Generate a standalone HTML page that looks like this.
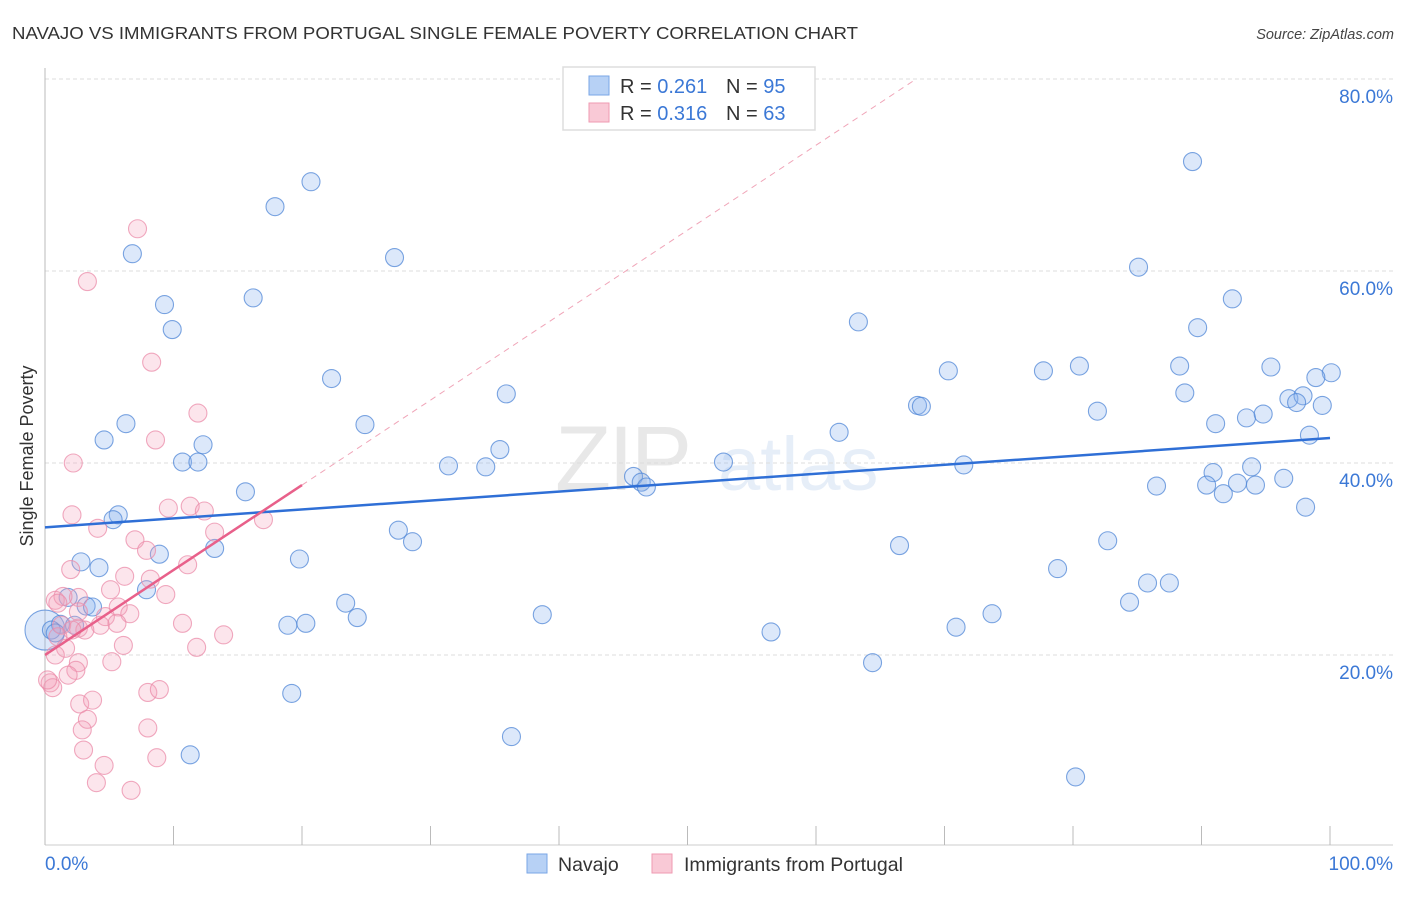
<!DOCTYPE html>
<html><head><meta charset="utf-8"><style>
body{margin:0;background:#fff;font-family:"Liberation Sans",sans-serif}
svg text{font-family:"Liberation Sans",sans-serif}
</style></head><body>
<svg id="chart" width="1406" height="892" xmlns="http://www.w3.org/2000/svg">
<text x="12" y="39" font-size="17.5" fill="#333" textLength="846" lengthAdjust="spacingAndGlyphs">NAVAJO VS IMMIGRANTS FROM PORTUGAL SINGLE FEMALE POVERTY CORRELATION CHART</text>
<text x="1394" y="39" font-size="14.5" fill="#444" text-anchor="end" font-style="italic">Source: ZipAtlas.com</text>
<g opacity="0.13">
<text x="555" y="490" font-size="92" font-family="Liberation Serif" fill="#555" letter-spacing="-3">ZIP</text>
<text x="718" y="490" font-size="76" fill="#4a7fd0">atlas</text>
</g>
<g id="grid"></g>
<g id="axes"></g>
<g id="pts"></g>
<g id="lines"></g>
<text transform="translate(33,456) rotate(-90)" font-size="18" fill="#333" text-anchor="middle">Single Female Poverty</text>
<g>
<rect x="563" y="67" width="252" height="63" fill="#fff" stroke="#ddd" stroke-width="1.5"/>
<rect x="589" y="76" width="20" height="19" fill="#b7d1f5" stroke="#7aa6e6"/>
<text x="620" y="93" font-size="20" fill="#333">R = <tspan fill="#3b78d6">0.261</tspan><tspan x="726">N = </tspan><tspan fill="#3b78d6">95</tspan></text>
<rect x="589" y="103" width="20" height="19" fill="#f9c9d6" stroke="#ef9ab2"/>
<text x="620" y="120" font-size="20" fill="#333">R = <tspan fill="#3b78d6">0.316</tspan><tspan x="726">N = </tspan><tspan fill="#3b78d6">63</tspan></text>
</g>
<g>
<rect x="527" y="854" width="20" height="19" fill="#b7d1f5" stroke="#7aa6e6"/>
<text x="558" y="871" font-size="19.5" fill="#333">Navajo</text>
<rect x="652" y="854" width="20" height="19" fill="#f9c9d6" stroke="#ef9ab2"/>
<text x="684" y="871" font-size="19.5" fill="#333">Immigrants from Portugal</text>
</g>
</svg>
<script>
const navajoX=[0,20.7,17.9,6.8,27.2,9.3,16.2,9.9,22.3,35.9,6.3,4.6,24.9,12.3,35.4,10.7,11.9,31.4,34.3,15.6,5.7,5.3,27.5,28.6,13.2,8.9,2.8,19.8,4.2,7.9,1.8,23.4,3.2,3.7,24.3,18.9,20.3,1.2,2.3,0.5,0.8,38.7,19.2,36.3,11.3,89.3,85.1,92.4,89.7,63.3,70.3,77.7,80.5,88.3,95.4,100.1,98.9,88.7,81.9,67.9,68.2,96.8,97.9,97.4,99.4,91.1,93.5,94.8,98.4,61.8,52.8,71.5,93.9,90.9,96.4,90.4,92.8,94.2,86.5,91.7,98.1,45.8,46.4,46.8,82.7,66.5,78.8,85.8,87.5,84.4,73.7,70.9,56.5,64.4,80.2];
const navajoY=[22.6,69.3,66.7,61.8,61.4,56.5,57.2,53.9,48.8,47.2,44.1,42.4,44.0,41.9,41.4,40.1,40.1,39.7,39.6,37.0,34.6,34.1,33.0,31.8,31.1,30.5,29.7,30.0,29.1,26.8,26.0,25.4,25.1,25.0,23.9,23.1,23.3,23.2,23.1,22.6,22.3,24.2,16.0,11.5,9.6,71.4,60.4,57.1,54.1,54.7,49.6,49.6,50.1,50.1,50.0,49.4,48.9,47.3,45.4,46.0,45.9,46.7,47.0,46.3,46.0,44.1,44.7,45.1,42.9,43.2,40.1,39.8,39.6,39.0,38.4,37.7,37.9,37.7,37.6,36.8,35.4,38.6,38.0,37.5,31.9,31.4,29.0,27.5,27.5,25.5,24.3,22.9,22.4,19.2,7.3];
const portX=[2.1,4.1,9.6,11.3,12.4,17.0,13.2,7.0,7.9,11.1,2.0,6.2,8.2,5.1,2.6,9.4,0.8,1.4,5.7,4.7,6.6,1.3,4.3,5.6,2.6,3.1,10.7,2.1,1.0,1.6,6.1,11.8,13.9,0.8,5.2,2.6,2.4,1.8,0.4,0.6,2.7,3.7,3.3,8.0,8.9,2.9,8.0,3.0,8.7,4.6,4.0,6.7,7.2,3.3,8.3,11.9,8.6,2.2,0.2,1.0,2.6];
const portY=[34.6,33.2,35.3,35.5,35.0,34.1,32.8,32.0,30.9,29.4,28.9,28.2,27.9,26.8,26.0,26.3,25.7,26.1,25.0,24.0,24.3,23.1,23.1,23.3,22.8,22.6,23.3,22.6,21.9,20.7,21.0,20.8,22.1,20.0,19.3,19.2,18.4,17.9,17.1,16.6,14.9,15.3,13.3,16.1,16.4,12.2,12.4,10.1,9.3,8.5,6.7,5.9,64.4,58.9,50.5,45.2,42.4,40.0,17.4,25.4,24.5];
const navajoTrend=[33.3,42.6];
const portTrend=[20.0,37.7];
const yTicks=[20,40,60,80];
const xTickLabels=["0.0%","100.0%"];
const NS="http://www.w3.org/2000/svg";
const X=v=>45+v*12.85, Y=v=>847-v*9.6;
function mk(tag,attrs,parent){const e=document.createElementNS(NS,tag);for(const k in attrs)e.setAttribute(k,attrs[k]);document.getElementById(parent).appendChild(e);return e;}
yTicks.forEach(t=>{
 const g=mk('line',{x1:45,x2:1393,y1:Y(t),y2:Y(t),stroke:'#ddd','stroke-dasharray':'4,3'},'grid');
 
 
 const tx=mk('text',{x:1393,y:Y(t)+24,'font-size':19,fill:'#3b78d6','text-anchor':'end'},'grid');
 tx.textContent=t.toFixed(1)+'%';
 
 
});
const ax=mk('line',{x1:45,x2:45,y1:68,y2:845,stroke:'#bbb'},'axes');


const bx=mk('line',{x1:45,x2:1393,y1:845,y2:845,stroke:'#ccc'},'axes');


for(let i=0;i<=10;i++){
 const l=mk('line',{x1:X(i*10),x2:X(i*10),y1:826,y2:845,stroke:'#bbb'},'axes');
 
 
}
const xl0=mk('text',{x:45,y:870,'font-size':19,fill:'#3b78d6'},'axes');xl0.textContent=xTickLabels[0];


const xl1=mk('text',{x:1393,y:870,'font-size':19,fill:'#3b78d6','text-anchor':'end'},'axes');xl1.textContent=xTickLabels[1];


navajoX.forEach((v,i)=>{
 const c=mk('circle',{cx:X(v),cy:Y(navajoY[i]),r:i===0?20:9,fill:'rgba(140,180,240,0.3)',stroke:'rgba(80,135,215,0.75)','stroke-width':1.1},'pts');
 
 
});
portX.forEach((v,i)=>{
 const c=mk('circle',{cx:X(v),cy:Y(portY[i]),r:9,fill:'rgba(245,160,185,0.28)',stroke:'rgba(235,140,170,0.75)','stroke-width':1.1},'pts');
 
 
});
const bl=mk('line',{x1:X(0),y1:Y(navajoTrend[0]),x2:X(100),y2:Y(navajoTrend[1]),stroke:'#2f6fd6','stroke-width':2.5},'lines');


const slope=(portTrend[1]-portTrend[0])/20;
const xEnd=(80-portTrend[0])/slope;
const pd=mk('line',{x1:X(20),y1:Y(portTrend[1]),x2:X(xEnd),y2:Y(80),stroke:'#f0a5b8','stroke-width':1,'stroke-dasharray':'6,5'},'lines');


const pl=mk('line',{x1:X(0),y1:Y(portTrend[0]),x2:X(20),y2:Y(portTrend[1]),stroke:'#e8608a','stroke-width':2.5},'lines');


</script>
</body></html>
